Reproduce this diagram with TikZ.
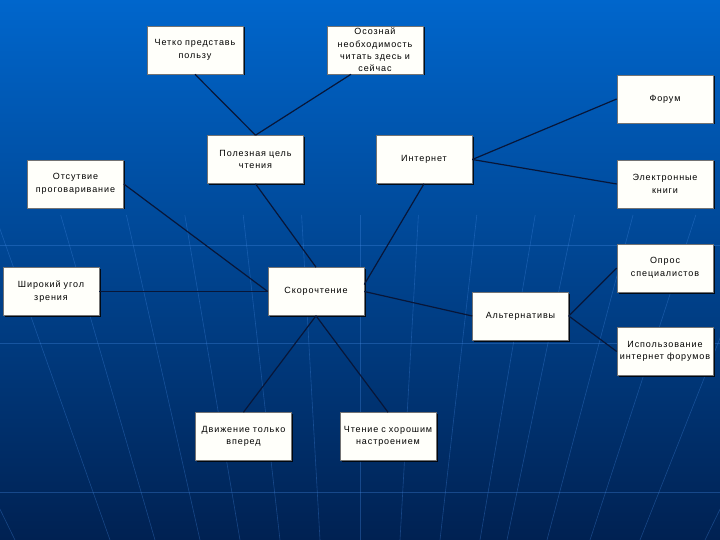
\documentclass[tikz,border=0pt]{standalone}
\usepackage{fontspec}
\setmainfont{Liberation Sans}
\newfontfamily\boxfont[LetterSpace=10]{Liberation Sans}
\usepackage{tikz}
\usetikzlibrary{positioning, calc, shadows}
\definecolor{bgtop}{RGB}{0,102,204}
\definecolor{bgmid}{RGB}{0,70,155}
\definecolor{bgbot}{RGB}{0,33,82}
\definecolor{gridblue}{RGB}{70,140,230}
\definecolor{linkdark}{RGB}{8,22,56}
\definecolor{boxfill}{RGB}{255,255,250}
\tikzset{
  block/.style={rectangle, draw=black!55, fill=boxfill, line width=0.6pt,
    minimum width=96pt, minimum height=48pt, text width=94pt, align=center,
    inner xsep=1pt, inner ysep=0pt, font=\boxfont\fontsize{9}{12.5}\selectfont,
    drop shadow={shadow xshift=1.5pt, shadow yshift=-1.5pt, fill=black, opacity=0.85}},
  blocktext/.style={text width=94pt, align=center, inner sep=0pt,
    font=\boxfont\fontsize{9}{12.4}\selectfont},
  link/.style={draw=linkdark, line width=1.2pt},
  gridline/.style={draw=gridblue, line width=0.6pt, opacity=0.33}
}

\begin{document}
\begin{tikzpicture}[x=1pt, y=-1pt]
  \useasboundingbox (0,0) rectangle (720,540);
  \clip (0,0) rectangle (720,540);

  % Background
  \shade[top color=bgtop, middle color=bgmid, bottom color=bgbot] (0,0) rectangle (720,540);
  \foreach \b in {-345,-250,-205,-160,-120,-80,-40,0,40,80,120,147,187,230,280,345}
    \draw[gridline] ({360+1.46*\b}, 215) -- ({360+\b}, 540);
  \foreach \h in {245,343,492}
    \draw[gridline] (0,\h) -- (720,\h);

  % Top row
  \node[block] (benefit) at (195, 50) {Четко представь\\пользу};
  \node[block] (aware) at (375, 50) {};
  \node[blocktext] at (aware) {Осознай\\необходимость\\читать здесь и\\сейчас};

  % Middle blocks
  \node[block] (goal) at (255.5, 159.5) {Полезная цель\\чтения};
  \node[block] (inet) at (424, 159.5) {Интернет};
  \node[block] (nospeech) at (75.5, 184) {Отсутвие\\проговаривание};
  \node[block] (wide) at (51, 291.5) {Широкий угол\\зрения};
  \node[block] (speed) at (316, 291.5) {Скорочтение};
  \node[block] (alt) at (520.5, 316) {Альтернативы};

  % Right column
  \node[block] (forum) at (665, 99) {Форум};
  \node[block] (ebooks) at (665, 184) {Электронные\\книги};
  \node[block] (poll) at (665, 268) {Опрос\\специалистов};
  \node[block] (forums) at (665, 351.5) {Использование\\интернет форумов};

  % Bottom row
  \node[block] (fwd) at (243.5, 436.5) {Движение только\\вперед};
  \node[block] (mood) at (388, 436.5) {Чтение с хорошим\\настроением};

  % Links
  \draw[link] (benefit.south) -- (goal.north);
  \draw[link] ([xshift=-24pt]aware.south) -- (goal.north);
  \draw[link] (goal.south) -- (speed.north);
  \draw[link] (inet.south) -- ([yshift=7pt]speed.east);
  \draw[link] (inet.east) -- (forum.west);
  \draw[link] (inet.east) -- (ebooks.west);
  \draw[link] (nospeech.east) -- (speed.west);
  \draw[link] (wide.east) -- (speed.west);
  \draw[link] (speed.east) -- (alt.west);
  \draw[link] (alt.east) -- (poll.west);
  \draw[link] (alt.east) -- (forums.west);
  \draw[link] (speed.south) -- (fwd.north);
  \draw[link] (speed.south) -- (mood.north);
\end{tikzpicture}
\end{document}
